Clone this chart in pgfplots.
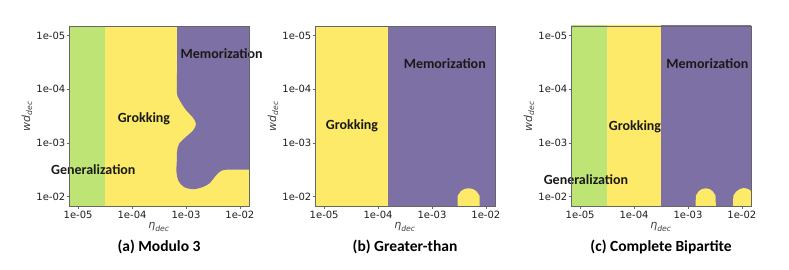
\documentclass[border=0pt]{standalone}
\usepackage{fontspec}
\setmainfont{Carlito}
\newfontfamily\dejavu{DejaVu Sans}
\usepackage{pgfplots}
\pgfplotsset{compat=1.18}
\definecolor{cgreen}{RGB}{190,228,118}
\definecolor{cyellow}{RGB}{253,234,104}
\definecolor{cpurple}{RGB}{125,112,164}
\pgfplotsset{
  phase/.style={
    width=180pt,height=180pt,scale only axis,
    xmin=-5.17,xmax=-1.83,ymin=1.82,ymax=5.18,
    xtick={-5,-4,-3,-2}, xticklabels={1e-05,1e-04,1e-03,1e-02},
    ytick={5,4,3,2}, yticklabels={1e-05,1e-04,1e-03,1e-02},
    tick align=outside, major tick length=2.5pt,
    xtick pos=left, ytick pos=left,
    tick style={black!60, line width=0.5pt},
    axis line style={black!60, line width=0.5pt},
    ticklabel style={font=\dejavu\fontsize{10}{12}\selectfont, text=black!88, inner sep=1pt},
    xticklabel style={yshift=-1pt},
    clip mode=individual,
    axis on top,
  },
}
\tikzset{
  lab/.style={font=\bfseries\fontsize{14}{16}\selectfont, text=black!90},
  ttl/.style={font=\bfseries\fontsize{15.5}{18}\selectfont, yshift=-41pt},
  xl/.style={font=\dejavu\itshape\fontsize{11}{13}\selectfont, text=black!75, yshift=-21pt},
  yl/.style={font=\dejavu\itshape\fontsize{11}{13}\selectfont, text=black!75, xshift=-42pt, rotate=90},
}
\begin{document}
\begin{tikzpicture}
\path[use as bounding box] (0,0) rectangle (789pt,269pt);
% ---------------- (a) ----------------
\begin{axis}[phase, at={(69pt,63pt)}, anchor=south west]
\addplot[fill=cyellow, draw=none] coordinates {(-5.5,1.5) (-1.0,1.5) (-1.0,5.5) (-5.5,5.5)} -- cycle;
\addplot[fill=cgreen, draw=none] coordinates {(-5.5,1.5) (-4.5,1.5) (-4.5,5.5) (-5.5,5.5)} -- cycle;
\addplot[fill=cpurple, draw=none, smooth, tension=0.55] coordinates {
 (-1.0,2.499) (-1.6,2.499) (-1.9,2.499) (-2.22,2.499) (-2.35,2.475) (-2.452,2.381) (-2.554,2.251)
 (-2.684,2.176) (-2.869,2.133) (-3.036,2.176) (-3.138,2.288) (-3.176,2.456) (-3.17,2.65)
 (-3.166,2.829) (-3.129,2.979) (-3.00,3.109) (-2.86,3.24) (-2.814,3.361) (-2.879,3.482)
 (-3.00,3.613) (-3.12,3.80) (-3.166,3.93) (-3.166,4.3) (-3.166,4.8) (-3.166,5.3) (-3.166,5.8)
 (-3.166,6.5) (-1.0,6.5)} -- cycle;
\node[lab] at (axis cs:-2.337,4.658) {Memorization};
\node[lab] at (axis cs:-3.779,3.439) {Grokking};
\node[lab] at (axis cs:-4.719,2.506) {Generalization};
\node[ttl] at (axis description cs:0.5,0) {(a) Modulo 3};
\node[xl] at (axis description cs:0.5,0) {η\textsubscript{dec}};
\node[yl] at (axis description cs:0,0.5) {wd\textsubscript{dec}};
\end{axis}
% ---------------- (b) ----------------
\begin{axis}[phase, at={(315pt,63pt)}, anchor=south west]
\addplot[fill=cyellow, draw=none] coordinates {(-5.5,1.5) (-1.0,1.5) (-1.0,5.5) (-5.5,5.5)} -- cycle;
\addplot[fill=cpurple, draw=none] coordinates {(-3.82,1.5) (-1.0,1.5) (-1.0,5.5) (-3.82,5.5)} -- cycle;
\addplot[fill=cyellow, draw=none, smooth] coordinates {
 (-2.525,1.5) (-2.525,1.96) (-2.509,2.033) (-2.465,2.094) (-2.3985,2.1356) (-2.32,2.15)
 (-2.2415,2.1356) (-2.175,2.094) (-2.131,2.033) (-2.115,1.96) (-2.115,1.5)} -- cycle;
\node[lab] at (axis cs:-2.762,4.471) {Memorization};
\node[lab] at (axis cs:-4.484,3.32) {Grokking};
\node[ttl] at (axis description cs:0.5,0) {(b) Greater-than};
\node[xl] at (axis description cs:0.5,0) {η\textsubscript{dec}};
\node[yl] at (axis description cs:0,0.5) {wd\textsubscript{dec}};
\end{axis}
% ---------------- (c) ----------------
\begin{axis}[phase, at={(571pt,63pt)}, anchor=south west]
\addplot[fill=cyellow, draw=none] coordinates {(-5.5,1.5) (-1.0,1.5) (-1.0,5.5) (-5.5,5.5)} -- cycle;
\addplot[fill=cgreen, draw=none] coordinates {(-5.5,1.5) (-4.5,1.5) (-4.5,5.5) (-5.5,5.5)} -- cycle;
\addplot[fill=cpurple, draw=none] coordinates {(-3.5,1.5) (-1.0,1.5) (-1.0,5.5) (-3.5,5.5)} -- cycle;
\addplot[fill=cyellow, draw=none, smooth] coordinates {
 (-2.855,1.5) (-2.855,1.96) (-2.841,2.033) (-2.801,2.094) (-2.741,2.1356) (-2.67,2.15)
 (-2.599,2.1356) (-2.539,2.094) (-2.499,2.033) (-2.485,1.96) (-2.485,1.5)} -- cycle;
\addplot[fill=cyellow, draw=none, smooth] coordinates {
 (-2.16,1.5) (-2.16,1.96) (-2.145,2.033) (-2.101,2.094) (-2.0365,2.1356) (-1.96,2.155)
 (-1.8835,2.1356) (-1.819,2.094) (-1.775,2.033) (-1.76,1.96) (-1.76,1.5)} -- cycle;
\node[lab] at (axis cs:-2.638,4.471) {Memorization};
\node[lab] at (axis cs:-3.983,3.301) {Grokking};
\node[lab] at (axis cs:-4.892,2.307) {Generalization};
\node[ttl] at (axis description cs:0.5,0) {(c) Complete Bipartite};
\node[xl] at (axis description cs:0.5,0) {η\textsubscript{dec}};
\node[yl] at (axis description cs:0,0.5) {wd\textsubscript{dec}};
\end{axis}
\end{tikzpicture}
\end{document}
